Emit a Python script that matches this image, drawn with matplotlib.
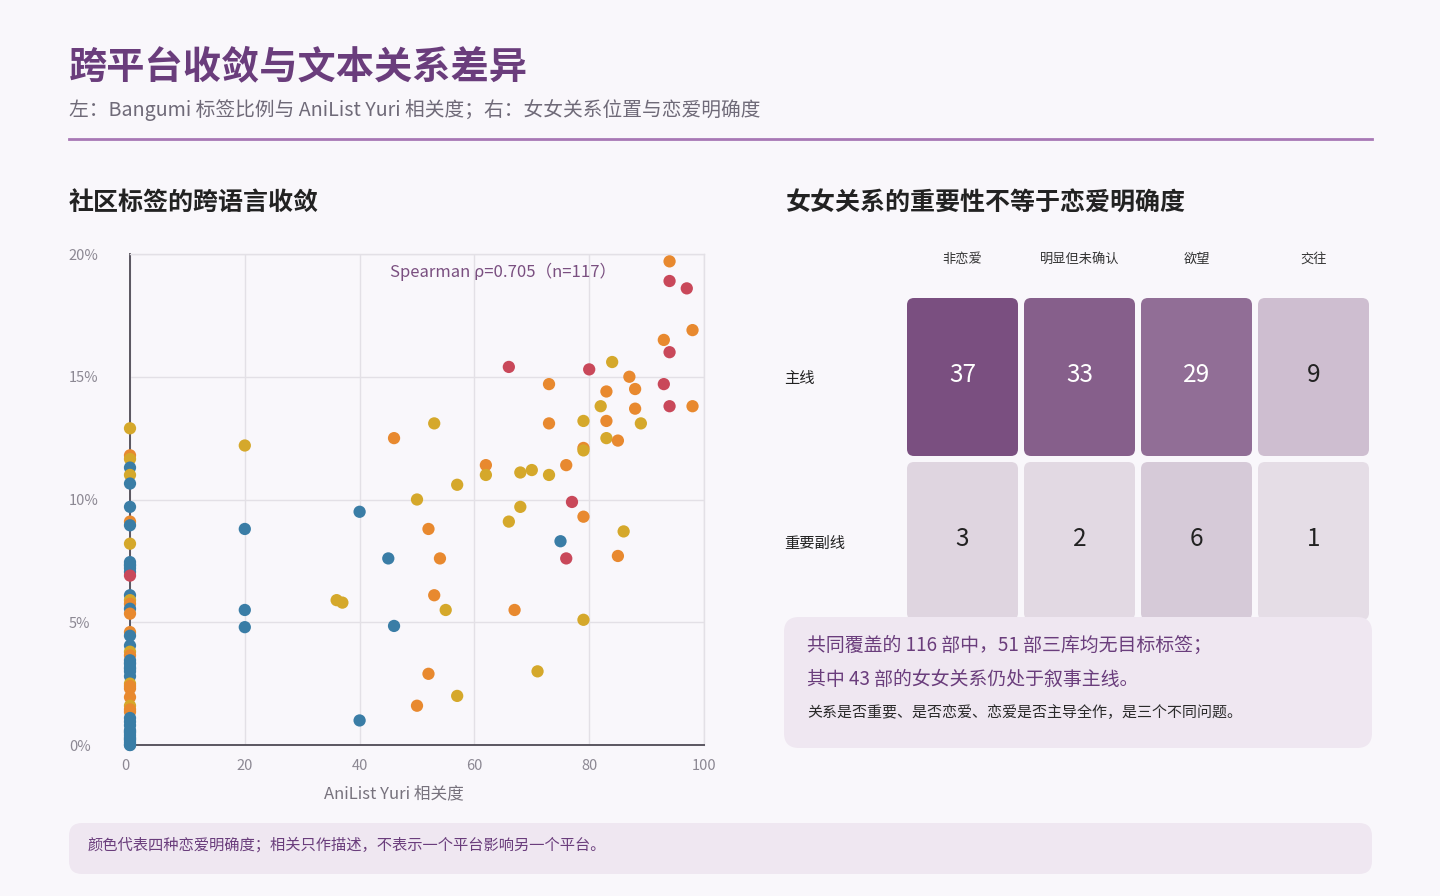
import numpy as np
import matplotlib.pyplot as plt
from matplotlib.colors import LinearSegmentedColormap
from matplotlib.patches import FancyBboxPatch
from matplotlib.lines import Line2D

plt.rcParams['font.family'] = ['Noto Sans CJK SC', 'DejaVu Sans']

# clarity classes: 0 非恋爱, 1 明显但未确认, 2 欲望, 3 交往
clarity_names = ['非恋爱', '明显但未确认', '欲望', '交往']
clarity_colors = ['#3A7DA6', '#D5A82B', '#E8892F', '#C9485A']

# works with AniList Yuri relevance 0 (Bangumi tag share, %)
zero_pct = [12.9, 11.8, 11.65, 11.3, 11.0, 10.65, 9.7, 9.1, 8.95, 8.2,
            7.45, 7.35, 7.3, 7.2, 7.05, 6.9, 6.1, 5.9, 5.75, 5.55,
            5.35, 4.6, 4.45, 4.05, 3.8, 3.65, 3.45, 3.35, 3.3, 3.15,
            3.1, 3.0, 2.8, 2.5, 2.4, 2.3, 1.95, 1.6, 1.45, 1.35,
            1.1, 0.95, 0.8, 0.6, 0.55, 0.5, 0.4, 0.3, 0.25, 0.2,
            0.1, 0.0, 0.0]
zero_cls = [1, 2, 1, 0, 1, 0, 0, 2, 0, 1,
            0, 0, 0, 0, 0, 3, 0, 1, 2, 0,
            2, 2, 0, 0, 1, 2, 0, 0, 0, 0,
            0, 0, 0, 1, 2, 2, 2, 1, 2, 2,
            0, 0, 0, 0, 0, 0, 0, 0, 0, 0,
            0, 0, 0]

# works with AniList Yuri relevance > 0
yuri_rel = [94, 94, 97, 98, 93, 94, 66, 80, 84, 87,
            88, 73, 83, 93, 82, 94, 98, 88, 79, 83,
            73, 89, 53, 46, 83, 85, 79, 79, 20, 62,
            62, 76, 68, 70, 73, 57, 77, 50, 79, 68,
            66, 86, 52, 40, 20, 75, 45, 54, 76, 85,
            36, 37, 53, 55, 67, 20, 79, 46, 20, 52,
            71, 57, 50, 40]
tag_pct = [19.7, 18.9, 18.6, 16.9, 16.5, 16.0, 15.4, 15.3, 15.6, 15.0,
           14.5, 14.7, 14.4, 14.7, 13.8, 13.8, 13.8, 13.7, 13.2, 13.2,
           13.1, 13.1, 13.1, 12.5, 12.5, 12.4, 12.1, 12.0, 12.2, 11.4,
           11.0, 11.4, 11.1, 11.2, 11.0, 10.6, 9.9, 10.0, 9.3, 9.7,
           9.1, 8.7, 8.8, 9.5, 8.8, 8.3, 7.6, 7.6, 7.6, 7.7,
           5.9, 5.8, 6.1, 5.5, 5.5, 5.5, 5.1, 4.85, 4.8, 2.9,
           3.0, 2.0, 1.6, 1.0]
tag_cls = [2, 3, 3, 2, 2, 3, 3, 3, 1, 2,
           2, 2, 2, 3, 1, 3, 2, 2, 1, 2,
           2, 1, 1, 2, 1, 2, 2, 1, 1, 2,
           1, 2, 1, 1, 1, 1, 3, 1, 2, 1,
           1, 1, 2, 0, 0, 0, 0, 2, 3, 2,
           1, 1, 2, 1, 2, 0, 1, 0, 0, 2,
           1, 1, 2, 0]

spearman_rho = 0.705
n_works = 117

# right panel: relationship position x romance clarity
role_names = ['主线', '重要副线']
counts = [[37, 33, 29, 9],
          [3, 2, 6, 1]]

W, H = 1440, 896
bg = '#F9F7FB'
fig = plt.figure(figsize=(W / 100, H / 100), dpi=100, facecolor=bg)


def fx(px):
    return px / W


def fy(py):
    return 1 - py / H


# header
fig.text(fx(69), fy(67), '跨平台收敛与文本关系差异', fontsize=27.5, weight='bold',
         color='#6A3D7C', va='center')
fig.text(fx(69), fy(110), '左：Bangumi 标签比例与 AniList Yuri 相关度；右：女女关系位置与恋爱明确度',
         fontsize=14.2, color='#6F6A78', va='center')
fig.add_artist(Line2D([fx(69), fx(1372)], [fy(139), fy(139)], color='#A878B5', lw=2))

fig.text(fx(69), fy(203), '社区标签的跨语言收敛', fontsize=18, weight='bold',
         color='#222222', va='center')
fig.text(fx(785), fy(203), '女女关系的重要性不等于恋爱明确度', fontsize=18, weight='bold',
         color='#222222', va='center')

# scatter
ax = fig.add_axes([fx(130), fy(745), (704 - 130) / W, (745 - 254) / H])
ax.set_facecolor(bg)
all_x = [0] * len(zero_pct) + yuri_rel
all_y = zero_pct + tag_pct
all_c = [clarity_colors[k] for k in zero_cls + tag_cls]
ax.scatter(all_x, all_y, c=all_c, s=78, linewidths=0, zorder=3, clip_on=False)
ax.set_xlim(0, 100)
ax.set_ylim(0, 20)
ax.set_xticks([0, 20, 40, 60, 80, 100])
ax.set_yticks([0, 5, 10, 15, 20])
ax.set_yticklabels([f'{v}%' for v in [0, 5, 10, 15, 20]])
ax.grid(color='#E3E0E6', lw=1, zorder=0)
ax.set_axisbelow(True)
for s in ['top', 'right']:
    ax.spines[s].set_color('#E3E0E6')
    ax.spines[s].set_linewidth(1)
for s in ['left', 'bottom']:
    ax.spines[s].set_color('#5A5660')
    ax.spines[s].set_linewidth(1.4)
ax.tick_params(length=0, labelsize=10.5, labelcolor='#8C8893')
ax.tick_params(axis='x', pad=10)
ax.tick_params(axis='y', pad=44)
for lbl in ax.get_yticklabels():
    lbl.set_ha('left')
ax.get_xticklabels()[0].set_ha('right')
ax.set_xlabel('AniList Yuri 相关度', fontsize=12, color='#77727D')
ax.xaxis.set_label_coords(0.46, -0.082)
ax.text(0.65, 0.963, f'Spearman ρ={spearman_rho}（n={n_works}）', transform=ax.transAxes,
        ha='center', va='center', fontsize=12, color='#7A4F80')

# heatmap
ax2 = fig.add_axes([fx(904), fy(623), 468 / W, 328 / H])
ax2.set_facecolor(bg)
ax2.set_xlim(0, 4)
ax2.set_ylim(2, 0)
cmap = LinearSegmentedColormap.from_list('plum', ['#E5DDE6', '#7A4F80'])
norm = plt.Normalize(1, 37)
gx, gy = 3 / 117, 3 / 164
for i, row in enumerate(counts):
    for j, v in enumerate(row):
        cell = FancyBboxPatch((j + gx, i + gy), 1 - 2 * gx, 1 - 2 * gy,
                              boxstyle='round,pad=0,rounding_size=0.06',
                              mutation_aspect=117 / 164,
                              facecolor=cmap(norm(v)), edgecolor='none')
        ax2.add_patch(cell)
        ax2.text(j + 0.5, i + 0.485, str(v), ha='center', va='center', fontsize=17.5,
                 color='white' if v > 20 else '#222222')
ax2.xaxis.tick_top()
ax2.set_xticks([0.5, 1.5, 2.5, 3.5])
ax2.set_xticklabels(clarity_names)
ax2.set_yticks([0.5, 1.5])
ax2.set_yticklabels(role_names)
ax2.tick_params(axis='x', length=0, pad=21, labelsize=9.5, labelcolor='#333333')
ax2.tick_params(axis='y', length=0, pad=86, labelsize=11, labelcolor='#222222')
for lbl in ax2.get_yticklabels():
    lbl.set_ha('left')
for s in ax2.spines.values():
    s.set_visible(False)

# note box over the heatmap
box = FancyBboxPatch((7.84, (H - 748) / 100), 5.88, 1.31,
                     boxstyle='round,pad=0,rounding_size=0.15',
                     transform=fig.dpi_scale_trans, facecolor='#EFE7F1',
                     edgecolor='none', zorder=5)
fig.add_artist(box)
fig.text(fx(807), fy(645), '共同覆盖的 116 部中，51 部三库均无目标标签；', fontsize=13.6,
         color='#6A3D7C', va='center', zorder=6)
fig.text(fx(807), fy(679), '其中 43 部的女女关系仍处于叙事主线。', fontsize=13.6,
         color='#6A3D7C', va='center', zorder=6)
fig.text(fx(807), fy(713), '关系是否重要、是否恋爱、恋爱是否主导全作，是三个不同问题。',
         fontsize=10.8, color='#2A2A2A', va='center', zorder=6)

# footer
foot = FancyBboxPatch((0.69, (H - 874) / 100), 13.03, 0.51,
                      boxstyle='round,pad=0,rounding_size=0.13',
                      transform=fig.dpi_scale_trans, facecolor='#EFE7F1',
                      edgecolor='none', zorder=5)
fig.add_artist(foot)
fig.text(fx(88), fy(845), '颜色代表四种恋爱明确度；相关只作描述，不表示一个平台影响另一个平台。',
         fontsize=11, color='#6A3D7C', va='center', zorder=6)

fig.savefig('out.png', dpi=100, facecolor=bg)
